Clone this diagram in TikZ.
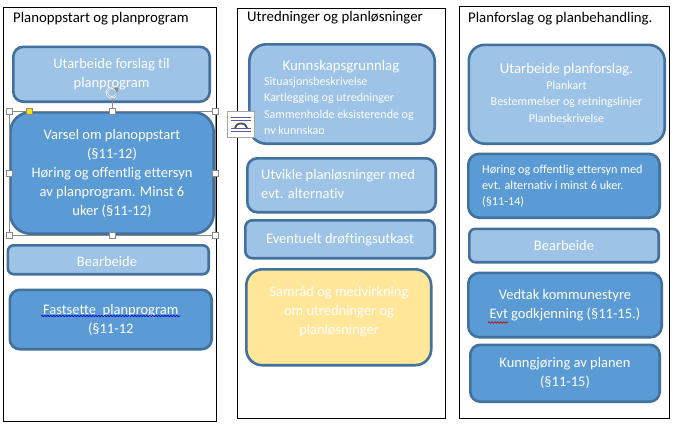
\documentclass[tikz,border=0pt]{standalone}
\usepackage{fontspec}
\setmainfont[Ligatures=NoCommon]{Carlito}
\usetikzlibrary{decorations.pathmorphing,calc}
\definecolor{lightfill}{HTML}{9DC3E6}
\definecolor{midfill}{HTML}{5B9BD5}
\definecolor{yellowfill}{HTML}{FFE699}
\definecolor{boxedge}{HTML}{41719C}
\definecolor{handle}{HTML}{8A8A8A}
\tikzset{
  x=1pt,y=-1pt,
  panel/.style={draw=black,line width=1pt,fill=white},
  paneltitle/.style={anchor=west,font=\fontsize{14.8}{16}\selectfont,text=black,inner sep=0pt},
  flow/.style={draw=boxedge,line width=2.6pt,rounded corners=#1,text=white,align=center,
    inner sep=0pt,font=\fontsize{14.5}{19}\selectfont},
  flow/.default=14pt,
  sel/.style={draw=handle,fill=white,line width=.6pt,minimum size=6pt,inner sep=0pt},
  small/.style={font=\fontsize{12}{16.3}\selectfont},
  wavy/.style={decorate,decoration={snake,amplitude=.7pt,segment length=3pt},line width=.7pt},
  boxhead/.style={text=white,anchor=north,font=\fontsize{14.8}{17}\selectfont,inner sep=0pt},
}
% Places a box by its outer corners: name, x1, y1, x2, y2, fill, options, text
\newcommand{\flowbox}[8]{%
  \node[flow,#7,fill=#6,minimum width=#4pt-#2pt-2.6pt,minimum height=#5pt-#3pt-2.6pt]
    (#1) at ({(#2+#4)/2},{(#3+#5)/2}) {#8};}
\begin{document}
\begin{tikzpicture}
\useasboundingbox (0,0) rectangle (675,424);
\fill[white] (0,0) rectangle (675,424);

% Three column frames
\draw[panel] (3,7) rectangle (216,421);
\draw[panel] (237,8) rectangle (445,418);
\draw[panel] (459,6) rectangle (669.5,418);

\node[paneltitle] (t1) at (13,19) {Planoppstart og planprogram};
\node[paneltitle] (t2) at (247,18) {Utredninger og planløsninger};
\node[paneltitle] (t3) at (468,19) {Planforslag og planbehandling.};

% First column
\flowbox{a1}{12}{45.5}{211}{103}{lightfill}{flow=10pt}{Utarbeide forslag til\\planprogram}
\flowbox{a2}{9}{111}{215}{235}{midfill}{flow=20pt}{Varsel om planoppstart\\(§11-12)\\Høring og offentlig ettersyn\\av planprogram. Minst 6\\uker (§11-12)}
\flowbox{a3}{6.5}{244}{210}{275.5}{lightfill}{flow=6pt}{}
\node[text=white,font=\fontsize{14.5}{19}\selectfont,inner sep=0pt] (a3t) at (107,261.5) {Bearbeide};
\flowbox{a4}{8.5}{288.5}{213}{350.5}{midfill}{flow=10pt}{Fastsette\ \ planprogram\\(§11-12}

% Second column
\flowbox{b1}{248}{43}{436}{145}{lightfill}{flow=17pt}{}
\begin{scope}
  \clip (250,46) rectangle (434,133.5);
  \node[boxhead] (b1t) at (341,60) {Kunnskapsgrunnlag};
  \node[text=white,anchor=north west,align=left,small,inner sep=0pt] (b1d) at (264,77)
    {Situasjonsbeskrivelse\\Kartlegging og utredninger\\Sammenholde eksisterende og\\ny kunnskap};
\end{scope}
\flowbox{b2}{246}{157}{437}{213.5}{lightfill}{flow=10pt}{}
\node[text=white,anchor=north west,align=left,font=\fontsize{14.5}{19}\selectfont,inner sep=0pt] (b2t) at (261,169.5) {Utvikle planløsninger med\\evt. alternativ};
\flowbox{b3}{244}{219}{436}{259.5}{lightfill}{flow=7pt}{Eventuelt drøftingsutkast}
\flowbox{b4}{245}{268}{432.5}{366.5}{yellowfill}{flow=16pt}{}
\node[text=white,align=center,font=\fontsize{14.5}{19}\selectfont,inner sep=0pt] (b4t) at (339,312) {Samråd og medvirkning\\om utredninger og\\planløsninger};

% Third column
\flowbox{c1}{467.5}{43.5}{666}{145}{lightfill}{flow=16pt}{}
\node[boxhead] (c1t) at (566.5,63) {Utarbeide planforslag.};
\node[text=white,anchor=north,align=center,small,inner sep=0pt] (c1d) at (566.5,81) {Plankart\\Bestemmelser og retningslinjer\\Planbeskrivelse};
\flowbox{c2}{467}{152.5}{661}{219}{midfill}{flow=11pt}{}
\node[text=white,anchor=north west,align=left,font=\fontsize{12.2}{16}\selectfont,inner sep=0pt] (c2t) at (482,165) {Høring og offentlig ettersyn med\\evt. alternativ i minst 6 uker.\\(§11-14)};
\flowbox{c3}{468}{227.5}{660}{263.5}{lightfill}{flow=6pt}{Bearbeide}
\flowbox{c4}{467}{271.5}{663}{338.5}{midfill}{flow=11pt}{Vedtak kommunestyre\\Evt godkjenning (§11-15.)}
\flowbox{c5}{469}{343.5}{661}{403}{midfill}{flow=10pt}{Kunngjøring av planen\\(§11-15)}

% Spelling-check underlines
\draw[wavy,blue!80!black] (41,316) -- (180,316);
\draw[wavy,red!80!black] (488,322.5) -- (508,322.5);

% Selection frame with handles around the active shape
\draw[handle,line width=.5pt] (9,111) rectangle (215,235);
\foreach \n/\px/\py in {h1/9/111,h2/112/111,h3/215/111,h4/9/173,h5/215/173,h6/9/235,h7/112/235,h8/215/235}
  \node[sel] (\n) at (\px,\py) {};
\node[sel,fill=yellow!85!orange] (adj) at (29,111) {};
\coordinate (rotfoot) at (112,99);
\draw[handle,line width=.5pt] (h2) -- (rotfoot);
\draw[white,line width=2pt] (116,90) arc (30:330:5pt);
\draw[handle!80,line width=.6pt] (116,90) arc (30:330:5pt);
\fill[handle] (113.5,87.5) -- (118.5,87.5) -- (117.5,92.5) -- cycle;

% Layout options button
\node[draw=gray!70,fill=white,line width=.7pt,minimum width=27pt,minimum height=26pt,inner sep=0pt] (lay) at (241,124) {};
\foreach \ly in {117,120,128,131}
  \draw[gray!70!blue,line width=.6pt] (231,\ly) -- (251,\ly);
\draw[black!70,line width=1.8pt] (235,128) arc (180:0:6pt and 4.5pt);
\end{tikzpicture}
\end{document}
